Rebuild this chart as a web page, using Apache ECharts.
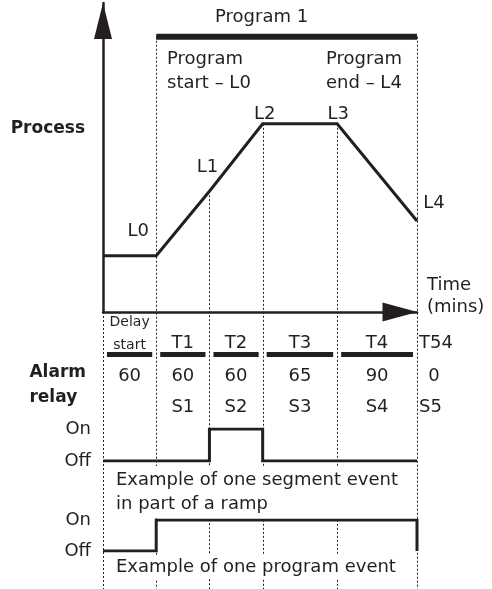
<!DOCTYPE html>
<html>
<head>
<meta charset="utf-8">
<script src="https://cdn.jsdelivr.net/npm/echarts@6/dist/echarts.min.js"></script>
<style>
html, body { margin: 0; padding: 0; background: #fff; }
#chart { width: 492px; height: 589px; }
</style>
</head>
<body>
<div id="chart"></div>
<script>
// segment boundaries (schematic time positions) and the process level at each one
var segEdges = [0, 1, 2, 3, 4.4, 5.9];
var processLevels = [20, 20, 43, 67, 67, 32.4];
var levelNames = ['', 'L0', 'L1', 'L2', 'L3', 'L4'];
var programLevel = 98;

// table under the time axis
var segLabels = ['Delay\nstart', 'T1', 'T2', 'T3', 'T4', 'T54'];
var segMinutes = [60, 60, 60, 65, 90, 0];
var segEvents = ['', 'S1', 'S2', 'S3', 'S4', 'S5'];

// relay states per segment (delay, T1..T4)
var relayStates = ['Off', 'On'];
var segmentEvent = ['Off', 'Off', 'On', 'Off', 'Off'];
var programEvent = ['Off', 'On', 'On', 'On', 'On'];

(function () {
    var ink = '#231f20';
    var font = 'DejaVu Sans';
    var last = segEdges[segEdges.length - 1];

    var chart = echarts.init(document.getElementById('chart'));

    function stepData(states) {
        var out = [];
        states.forEach(function (s, i) {
            out.push([segEdges[i], s], [segEdges[i + 1], s]);
        });
        out.push([last, 'Off']);
        return out;
    }

    var labelOffsets = [[0, 0], [-18, -24], [-2, -24], [2, -9], [1, -9], [17, -18]];
    var processData = segEdges.map(function (x, i) {
        return {
            value: [x, processLevels[i]],
            label: { show: !!levelNames[i], formatter: levelNames[i], offset: labelOffsets[i] }
        };
    });

    var guideData = segEdges.map(function (x, i) {
        var top = processLevels[i];
        if (i === 0) top = 0;
        if (i === 1 || i === segEdges.length - 1) top = programLevel;
        return [x, top];
    });

    var tableData = segLabels.map(function (l, i) {
        var end = i + 1 < segEdges.length ? segEdges[i + 1] : segEdges[i];
        return [segEdges[i], end, i];
    });

    function txt(text, x, y, extra) {
        var st = {
            text: text, x: x, y: y, align: 'center', verticalAlign: 'middle',
            fontSize: 18, fontFamily: font, fill: ink
        };
        for (var k in extra) st[k] = extra[k];
        return { type: 'text', style: st };
    }

    var hiddenX = function (idx) {
        return { type: 'value', gridIndex: idx, min: 0, max: last, show: false };
    };
    var relayY = function (idx) {
        return {
            type: 'category', gridIndex: idx, data: relayStates, boundaryGap: false,
            axisLine: { show: false }, axisTick: { show: false }, splitLine: { show: false },
            axisLabel: { margin: 12, fontSize: 18, fontFamily: font, color: ink, padding: [0, 0, 6, 0] }
        };
    };

    var option = {
        animation: false,
        backgroundColor: '#fff',
        grid: [
            { left: 103, right: 75, top: 3, bottom: 277 },
            { left: 103, right: 75, top: 429, bottom: 128 },
            { left: 103, right: 75, top: 520, bottom: 38 }
        ],
        xAxis: [
            {
                type: 'value', gridIndex: 0, min: 0, max: last,
                axisLine: {
                    lineStyle: { color: ink, width: 2.5 },
                    symbol: ['none', 'triangle'], symbolSize: [19, 35], symbolOffset: [0, -17]
                },
                axisTick: { show: false }, axisLabel: { show: false }, splitLine: { show: false }
            },
            hiddenX(1),
            hiddenX(2)
        ],
        yAxis: [
            {
                type: 'value', gridIndex: 0, min: 0, max: 110,
                axisLine: {
                    show: true,
                    lineStyle: { color: ink, width: 2.5 },
                    symbol: ['none', 'triangle'], symbolSize: [18, 36], symbolOffset: [0, -18]
                },
                axisTick: { show: false }, axisLabel: { show: false }, splitLine: { show: false }
            },
            relayY(1),
            relayY(2)
        ],
        series: [
            {
                name: 'guides',
                type: 'custom',
                xAxisIndex: 0, yAxisIndex: 0,
                z: 1,
                data: guideData,
                renderItem: function (params, api) {
                    var p = api.coord([api.value(0), api.value(1)]);
                    var x = Math.round(p[0]) + 0.5;
                    return {
                        type: 'line',
                        shape: { x1: x, y1: p[1], x2: x, y2: api.getHeight() },
                        style: { stroke: ink, lineWidth: 1, lineDash: [2, 2] }
                    };
                }
            },
            {
                name: 'Program 1',
                type: 'line',
                xAxisIndex: 0, yAxisIndex: 0,
                z: 3,
                symbol: 'none',
                lineStyle: { color: ink, width: 6, cap: 'butt' },
                data: [[segEdges[1], programLevel], [last, programLevel]]
            },
            {
                name: 'Process',
                type: 'line',
                xAxisIndex: 0, yAxisIndex: 0,
                z: 3,
                symbol: 'circle',
                symbolSize: 1,
                itemStyle: { color: ink },
                lineStyle: { color: ink, width: 3, join: 'miter' },
                label: { position: 'inside', fontSize: 18, fontFamily: font, color: ink },
                data: processData
            },
            {
                name: 'table',
                type: 'custom',
                xAxisIndex: 0, yAxisIndex: 0,
                z: 3,
                data: tableData,
                renderItem: function (params, api) {
                    var i = api.value(2);
                    var a = api.coord([api.value(0), 0]);
                    var b = api.coord([api.value(1), 0]);
                    var axisY = a[1];
                    var mid = (a[0] + b[0]) / 2;
                    var kids = [];
                    if (b[0] > a[0]) {
                        kids.push({
                            type: 'rect',
                            shape: { x: a[0] + 4, y: axisY + 40, width: b[0] - a[0] - 8, height: 5 },
                            style: { fill: ink }
                        });
                    }
                    if (i === 0) {
                        kids.push(txt(segLabels[i], mid, axisY + 22, { fontSize: 14, lineHeight: 23 }));
                        kids.push(txt(String(segMinutes[i]), mid, axisY + 64));
                    } else if (b[0] > a[0]) {
                        kids.push(txt(segLabels[i], mid, axisY + 31));
                        kids.push(txt(String(segMinutes[i]), mid, axisY + 64));
                        kids.push(txt(segEvents[i], mid, axisY + 95));
                    } else {
                        kids.push(txt(segLabels[i], a[0] + 2, axisY + 31, { align: 'left' }));
                        kids.push(txt(String(segMinutes[i]), a[0] + 17, axisY + 64));
                        kids.push(txt(segEvents[i], a[0] + 2, axisY + 95, { align: 'left' }));
                    }
                    return { type: 'group', children: kids };
                }
            },
            {
                name: 'Segment event',
                type: 'line',
                xAxisIndex: 1, yAxisIndex: 1,
                symbol: 'none',
                lineStyle: { color: ink, width: 3, join: 'miter', cap: 'butt' },
                data: stepData(segmentEvent)
            },
            {
                name: 'Program event',
                type: 'line',
                xAxisIndex: 2, yAxisIndex: 2,
                symbol: 'none',
                lineStyle: { color: ink, width: 3, join: 'miter', cap: 'butt' },
                data: stepData(programEvent)
            }
        ],
        graphic: [
            {
                type: 'text', left: 215, top: 8, z: 100,
                style: { text: 'Program 1', fontSize: 18, fontFamily: font, fill: ink }
            },
            {
                type: 'text', left: 167, top: 47, z: 100,
                style: { text: 'Program\nstart – L0', fontSize: 18, lineHeight: 24, fontFamily: font, fill: ink }
            },
            {
                type: 'text', left: 326, top: 47, z: 100,
                style: { text: 'Program\nend – L4', fontSize: 18, lineHeight: 24, fontFamily: font, fill: ink }
            },
            {
                type: 'text', left: 427, top: 274, z: 100,
                style: { text: 'Time\n(mins)', fontSize: 18, lineHeight: 22, fontFamily: font, fill: ink }
            },
            {
                type: 'text', right: 407, top: 120, z: 100,
                style: { text: 'Process', fontSize: 17, fontWeight: 'bold', fontFamily: font, fill: ink }
            },
            {
                type: 'text', right: 406, top: 360, z: 100,
                style: {
                    text: 'Alarm\nrelay', fontSize: 17, lineHeight: 25, fontWeight: 'bold',
                    fontFamily: font, fill: ink, align: 'right'
                }
            },
            {
                type: 'text', left: 112, top: 466, z: 100,
                style: {
                    text: 'Example of one segment event\nin part of a ramp', fontSize: 18, lineHeight: 24,
                    fontFamily: font, fill: ink, backgroundColor: '#fff', padding: [2, 4, 2, 4]
                }
            },
            {
                type: 'text', left: 112, top: 555, z: 100,
                style: {
                    text: 'Example of one program event', fontSize: 18, lineHeight: 22,
                    fontFamily: font, fill: ink, backgroundColor: '#fff', padding: [1, 4, 1, 4]
                }
            }
        ]
    };

    chart.setOption(option);
})();
</script>
</body>
</html>
